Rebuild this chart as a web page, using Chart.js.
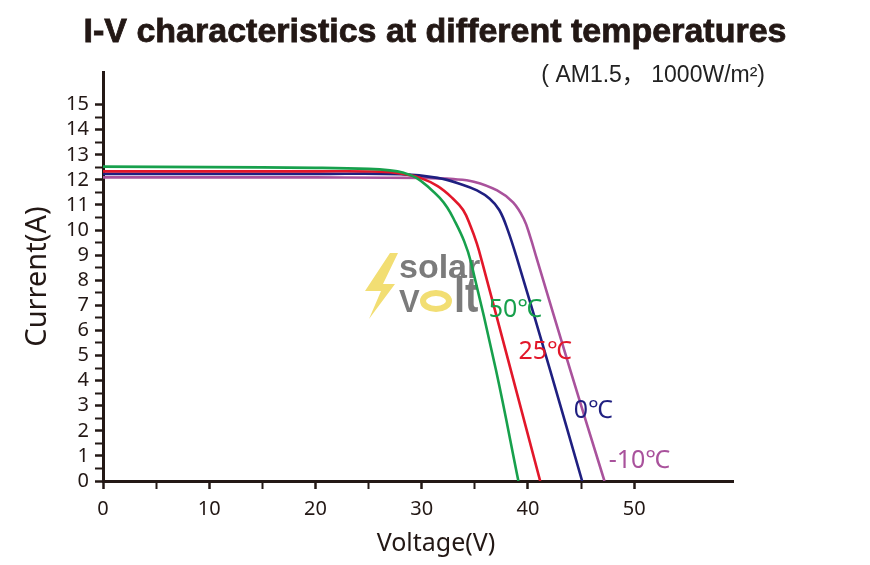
<!DOCTYPE html>
<html>
<head>
<meta charset="utf-8">
<script src="https://cdn.jsdelivr.net/npm/chart.js@4/dist/chart.umd.min.js"></script>
<style>
  html, body { margin: 0; padding: 0; background: #fff; }
  #wrap { width: 870px; height: 565px; }
</style>
</head>
<body>
<div id="wrap"><canvas id="ivChart"></canvas></div>
<script>
// I-V curves: [voltage V, current A]
const curve50 = [[0, 12.53], [10, 12.51], [20, 12.48], [25, 12.44], [27, 12.38], [28.3, 12.28], [29.5, 12.08], [30.8, 11.65], [31.7, 11.28], [32.4, 10.9], [33.0, 10.45], [34.0, 9.55], [34.65, 8.7], [37.0, 4.4], [39.1, 0]];
const curve25 = [[0, 12.34], [10, 12.34], [20, 12.34], [26, 12.33], [28, 12.26], [29.85, 12.08], [31.5, 11.75], [32.9, 11.27], [33.9, 10.8], [34.6, 10.15], [35.2, 9.45], [35.7, 8.7], [38.4, 4.4], [41.15, 0]];
const curve0 = [[0, 12.24], [10, 12.24], [20, 12.24], [28, 12.23], [31.5, 12.08], [33.9, 11.8], [35.2, 11.58], [36.4, 11.25], [37.3, 10.8], [38.1, 10.0], [39.05, 8.75], [42.1, 4.4], [45.1, 0]];
const curveM10 = [[0, 12.1], [10, 12.1], [20, 12.1], [30, 12.08], [33, 12.03], [34.9, 11.93], [37.1, 11.58], [38.6, 11.1], [39.6, 10.45], [40.2, 9.75], [40.8, 8.9], [44.0, 4.4], [47.2, 0]];

const seriesNames = ['50℃', '25℃', '0℃', '-10℃'];
const seriesColors = ['#17a04c', '#e2172a', '#1f1f80', '#a9529c'];
// where each curve's name sits, in data units [V, A] (left edge, middle)
const labelSpots = [[36.3, 6.8], [39.1, 5.15], [44.3, 2.8], [47.6, 0.8]];

const xTicks = [0, 5, 10, 15, 20, 25, 30, 35, 40, 45, 50];
const yTicks = [0, 0.5, 1, 1.5, 2, 2.5, 3, 3.5, 4, 4.5, 5, 5.5, 6, 6.5, 7, 7.5, 8, 8.5, 9, 9.5, 10, 10.5, 11, 11.5, 12, 12.5, 13, 13.5, 14, 14.5, 15];

const titleText = 'I-V characteristics at different temperatures';
const subtitleText = '( AM1.5， 1000W/m²)';
const xTitle = 'Voltage(V)';
const yTitle = 'Current(A)';

const ink = '#231815';
const toXY = pts => pts.map(p => ({ x: p[0], y: p[1] }));

const curveLabels = {
  id: 'curveLabels',
  afterDatasetsDraw(chart) {
    const { ctx, scales: { x, y } } = chart;
    ctx.save();
    ctx.font = '25px "Noto Sans", "DejaVu Sans", sans-serif';
    ctx.textAlign = 'left';
    ctx.textBaseline = 'middle';
    labelSpots.forEach((s, i) => {
      ctx.fillStyle = seriesColors[i];
      ctx.fillText(seriesNames[i], x.getPixelForValue(s[0]), y.getPixelForValue(s[1]));
    });
    ctx.restore();
  }
};

// faint "solar volt" logo behind the curves
const logo = {
  id: 'logo',
  beforeDatasetsDraw(chart) {
    const { ctx } = chart;
    const ox = 363, oy = 252;
    ctx.save();
    ctx.fillStyle = '#f2de73';
    ctx.beginPath();
    ctx.moveTo(ox + 27, oy + 1); ctx.lineTo(ox + 35, oy + 1); ctx.lineTo(ox + 20, oy + 32);
    ctx.lineTo(ox + 32, oy + 32); ctx.lineTo(ox + 6, oy + 67); ctx.lineTo(ox + 18, oy + 39);
    ctx.lineTo(ox + 2, oy + 39); ctx.closePath(); ctx.fill();

    ctx.fillStyle = '#7b7b7b';
    ctx.textAlign = 'left';
    ctx.textBaseline = 'alphabetic';
    ctx.font = 'bold 34px "Liberation Sans", sans-serif';
    ctx.fillText('solar', ox + 36, oy + 26);
    ctx.font = 'bold 31px "Liberation Sans", sans-serif';
    ctx.fillText('V', ox + 36, oy + 60);
    ctx.strokeStyle = '#f2de73';
    ctx.lineWidth = 6;
    ctx.beginPath();
    ctx.ellipse(ox + 73, oy + 49, 13, 8, 0, 0, Math.PI * 2);
    ctx.stroke();
    ctx.save();
    ctx.translate(ox + 91, oy + 60);
    ctx.scale(0.8, 1);
    ctx.font = 'bold 50px "Liberation Sans", sans-serif';
    ctx.fillText('lt', 0, 0);
    ctx.restore();
    ctx.restore();
  }
};

// title, subtitle and the x axis name
const texts = {
  id: 'texts',
  afterDraw(chart) {
    const { ctx, chartArea } = chart;
    ctx.save();
    ctx.fillStyle = ink;
    ctx.strokeStyle = ink;
    ctx.lineWidth = 0.8;
    ctx.textAlign = 'center';
    ctx.textBaseline = 'alphabetic';
    ctx.font = 'bold 34px "Liberation Sans", Arial, sans-serif';
    ctx.fillText(titleText, chart.width / 2, 42);
    ctx.strokeText(titleText, chart.width / 2, 42);

    ctx.fillStyle = '#222';
    ctx.font = '23px "Liberation Sans", "Noto Sans CJK SC", sans-serif';
    ctx.textAlign = 'right';
    ctx.textBaseline = 'middle';
    ctx.fillText(subtitleText, chartArea.right + 32, chartArea.top + 4);

    ctx.fillStyle = ink;
    ctx.font = '25px "Noto Sans", sans-serif';
    ctx.textAlign = 'center';
    ctx.fillText(xTitle, chartArea.left + 333, chartArea.bottom + 63);
    ctx.restore();
  }
};

const ctx = document.getElementById('ivChart').getContext('2d');
new Chart(ctx, {
  type: 'scatter',
  data: {
    datasets: [curve50, curve25, curve0, curveM10].map((c, i) => ({
      label: seriesNames[i],
      data: toXY(c),
      showLine: true,
      borderColor: seriesColors[i],
      backgroundColor: seriesColors[i],
      borderWidth: 2.6,
      pointRadius: 0,
      tension: 0.4
    }))
  },
  options: {
    responsive: true,
    maintainAspectRatio: false,
    animation: false,
    layout: { padding: { left: 0, right: 137, top: 72, bottom: 0 } },
    plugins: {
      legend: { display: false },
      tooltip: { enabled: false },
      title: { display: false }
    },
    scales: {
      x: {
        type: 'linear', min: 0, max: 59.3,
        afterBuildTicks: scale => { scale.ticks = xTicks.map(v => ({ value: v })); },
        afterFit: scale => { scale.height = 84; },
        border: { color: ink, width: 3 },
        grid: { drawOnChartArea: false, drawTicks: true, tickLength: 8, tickColor: ink, tickWidth: c => (c.tick && c.tick.value % 10 === 0 ? 2.5 : 2) },
        ticks: { autoSkip: false, maxRotation: 0, padding: 8, color: ink, font: { family: '"Noto Sans", sans-serif', size: 20 }, callback: v => (v % 10 === 0 ? v : '') },
        title: { display: false }
      },
      y: {
        type: 'linear', min: 0, max: 16.3,
        afterBuildTicks: scale => { scale.ticks = yTicks.map(v => ({ value: v })); },
        afterFit: scale => { scale.width = 103; },
        border: { color: ink, width: 3 },
        grid: { drawOnChartArea: false, drawTicks: true, tickLength: 8, tickColor: ink, tickWidth: c => (c.tick && Number.isInteger(c.tick.value) ? 2.5 : 2) },
        ticks: { autoSkip: false, padding: 6, color: ink, font: { family: '"Noto Sans", sans-serif', size: 20 }, callback: v => (Number.isInteger(v) ? v : '') },
        title: { display: true, text: yTitle, color: ink, font: { family: '"Noto Sans", sans-serif', size: 29, lineHeight: 1.2 }, padding: { top: 20, bottom: 0 } }
      }
    }
  },
  plugins: [logo, curveLabels, texts]
});
</script>
</body>
</html>
